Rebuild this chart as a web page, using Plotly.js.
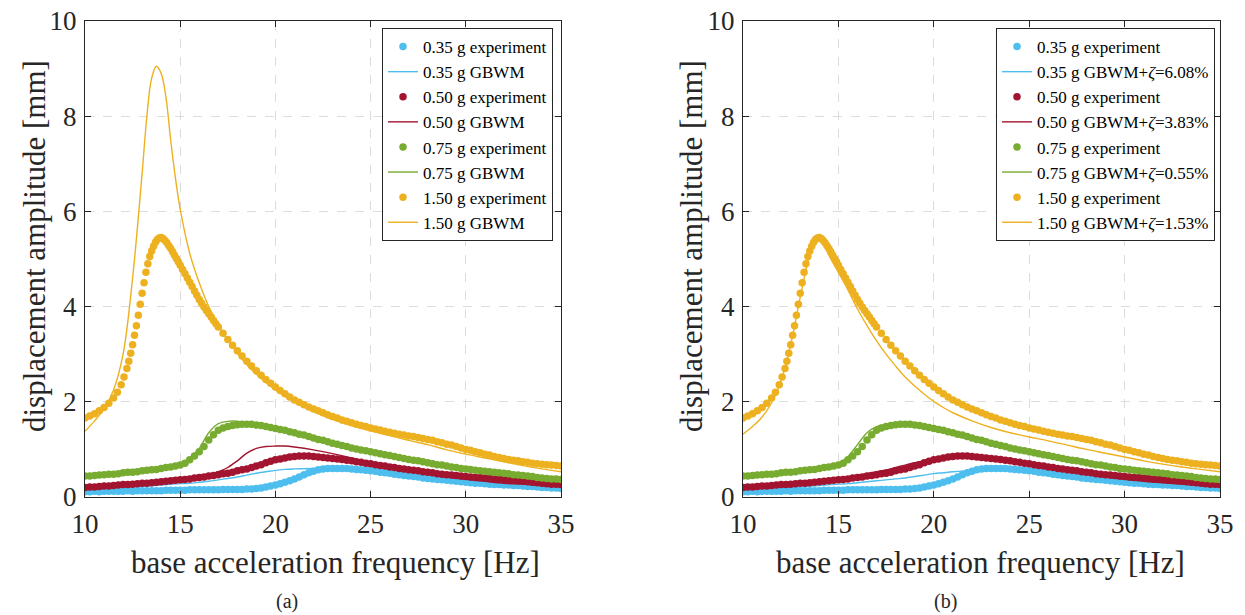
<!DOCTYPE html>
<html>
<head>
<meta charset="utf-8">
<script src="https://cdn.plot.ly/plotly-3.0.1.min.js"></script>
<style>html,body{margin:0;padding:0;background:#fff;}#chart{width:1245px;height:615px;}</style>
</head>
<body>
<div id="chart"></div>
<script>
// ---------- DATA ----------
// experiment frequency grid (Hz)
const expFreq = [
10,10.25,10.5,10.75, 11,11.25,11.5,11.75, 12,12.25,12.5,12.75, 13,13.25,13.5,13.75,
14,14.25,14.5,14.75, 15,15.25,15.5,15.75, 16,16.25,16.5,16.75, 17,17.25,17.5,17.75,
18,18.25,18.5,18.75, 19,19.25,19.5,19.75, 20,20.25,20.5,20.75, 21,21.25,21.5,21.75,
22,22.25,22.5,22.75, 23,23.25,23.5,23.75, 24,24.25,24.5,24.75, 25,25.25,25.5,25.75,
26,26.25,26.5,26.75, 27,27.25,27.5,27.75, 28,28.25,28.5,28.75, 29,29.25,29.5,29.75,
30,30.25,30.5,30.75, 31,31.25,31.5,31.75, 32,32.25,32.5,32.75, 33,33.25,33.5,33.75,
34,34.25,34.5,34.75, 35];

const exp035 = [
0.11,0.11,0.12,0.11, 0.12,0.12,0.12,0.12, 0.12,0.13,0.12,0.13, 0.13,0.13,0.13,0.13,
0.13,0.14,0.14,0.14, 0.14,0.14,0.15,0.15, 0.15,0.15,0.15,0.15, 0.15,0.16,0.16,0.16,
0.16,0.16,0.17,0.17, 0.18,0.19,0.21,0.23, 0.25,0.28,0.31,0.34, 0.38,0.42,0.47,0.51,
0.54,0.57,0.59,0.60, 0.60,0.60,0.60,0.60, 0.59,0.58,0.57,0.56, 0.55,0.54,0.52,0.51,
0.50,0.48,0.47,0.45, 0.44,0.43,0.42,0.40, 0.39,0.38,0.37,0.36, 0.35,0.34,0.33,0.32,
0.31,0.30,0.29,0.29, 0.28,0.27,0.26,0.26, 0.25,0.25,0.24,0.24, 0.23,0.22,0.22,0.21,
0.20,0.20,0.19,0.19, 0.18];

const exp050 = [
0.20,0.21,0.21,0.22, 0.23,0.23,0.24,0.25, 0.26,0.26,0.27,0.28, 0.29,0.29,0.30,0.31,
0.32,0.33,0.34,0.35, 0.36,0.37,0.38,0.40, 0.41,0.42,0.44,0.45, 0.47,0.49,0.50,0.52,
0.55,0.57,0.59,0.62, 0.65,0.68,0.72,0.75, 0.78,0.80,0.82,0.84, 0.85,0.86,0.86,0.86,
0.85,0.84,0.83,0.82, 0.81,0.80,0.79,0.77, 0.76,0.74,0.73,0.71, 0.70,0.68,0.66,0.65,
0.63,0.62,0.60,0.59, 0.57,0.56,0.55,0.53, 0.52,0.51,0.49,0.48, 0.47,0.46,0.45,0.44,
0.43,0.42,0.41,0.41, 0.40,0.39,0.38,0.38, 0.37,0.36,0.35,0.34, 0.33,0.32,0.31,0.30,
0.29,0.28,0.27,0.27, 0.26];

const exp075 = [
0.44,0.44,0.45,0.46, 0.47,0.48,0.48,0.49, 0.51,0.52,0.52,0.53, 0.55,0.56,0.57,0.58,
0.60,0.62,0.63,0.65, 0.67,0.71,0.78,0.86, 0.95,1.06,1.20,1.31, 1.40,1.45,1.48,1.50,
1.52,1.53,1.53,1.53, 1.51,1.50,1.48,1.46, 1.44,1.42,1.40,1.37, 1.35,1.32,1.30,1.27,
1.24,1.21,1.19,1.16, 1.13,1.11,1.08,1.06, 1.03,1.01,0.99,0.97, 0.95,0.93,0.91,0.89,
0.87,0.85,0.83,0.81, 0.79,0.77,0.76,0.74, 0.72,0.70,0.68,0.67, 0.65,0.63,0.62,0.60,
0.59,0.58,0.56,0.55, 0.54,0.53,0.52,0.51, 0.50,0.49,0.47,0.46, 0.45,0.44,0.43,0.41,
0.40,0.39,0.38,0.38, 0.37];

const exp150Freq = [
10,10.25,10.5,10.75,11,11.25,11.5,11.7,11.9,12.05,12.2,12.3,12.4,12.5,12.6,12.7,12.8,12.9,
13.0,13.1,13.2,13.3,13.4,13.5,13.6,13.7,13.8,13.9,14.0,14.1,14.2,14.3,14.4,14.5,14.6,14.7,14.8,14.9,
15,15.125,15.25,15.375,15.5,15.625,15.75,15.875,16,16.125,16.25,16.375,16.5,16.625,16.75,16.875,
17,17.25,17.5,17.75, 18,18.25,18.5,18.75,
19,19.25,19.5,19.75, 20,20.25,20.5,20.75, 21,21.25,21.5,21.75, 22,22.25,22.5,22.75,
23,23.25,23.5,23.75, 24,24.25,24.5,24.75, 25,25.25,25.5,25.75, 26,26.25,26.5,26.75,
27,27.25,27.5,27.75, 28,28.25,28.5,28.75, 29,29.25,29.5,29.75, 30,30.25,30.5,30.75,
31,31.25,31.5,31.75, 32,32.25,32.5,32.75, 33,33.25,33.5,33.75, 34,34.25,34.5,34.75, 35];
const exp150 = [
1.66,1.70,1.75,1.81,1.88,1.97,2.08,2.20,2.36,2.52,2.70,2.85,3.02,3.20,3.40,3.60,3.82,4.05,
4.28,4.50,4.72,4.90,5.05,5.17,5.27,5.35,5.41,5.44,5.45,5.43,5.39,5.34,5.28,5.22,5.15,5.08,5.01,4.94,
4.87,4.78,4.69,4.60,4.51,4.42,4.33,4.24,4.15,4.07,3.99,3.92,3.85,3.78,3.71,3.64,
3.57,3.44,3.31,3.19, 3.07,2.96,2.85,2.75,
2.65,2.56,2.47,2.39, 2.31,2.24,2.17,2.10, 2.04,1.99,1.94,1.89, 1.85,1.81,1.77,1.73,
1.69,1.66,1.62,1.59, 1.56,1.53,1.50,1.48, 1.45,1.43,1.41,1.38, 1.36,1.34,1.32,1.30,
1.28,1.27,1.25,1.23, 1.21,1.19,1.16,1.14, 1.11,1.09,1.06,1.03, 1.00,0.98,0.95,0.93,
0.90,0.88,0.85,0.83, 0.81,0.79,0.77,0.76, 0.74,0.73,0.71,0.70, 0.69,0.68,0.67,0.66, 0.65];

// model curves, panel (a): GBWM
const modFreq = [10,11,12,13,14,15,15.5,16,16.5,17,17.5,18,18.5,19,19.5,20,20.5,21,22,23,24,25,26,27,28,29,30,31,32,33,34,35];
const gbwm035 = [0.16,0.18,0.20,0.22,0.25,0.28,0.29,0.31,0.33,0.36,0.39,0.42,0.46,0.50,0.53,0.56,0.58,0.59,0.60,0.59,0.56,0.52,0.47,0.42,0.37,0.33,0.29,0.25,0.22,0.20,0.17,0.15];
const gbwm050 = [0.22,0.25,0.28,0.30,0.33,0.37,0.40,0.43,0.47,0.53,0.62,0.76,0.92,1.02,1.06,1.07,1.07,1.05,0.99,0.91,0.82,0.72,0.63,0.55,0.48,0.42,0.37,0.33,0.29,0.27,0.24,0.22];
const gbwm075 = [0.43,0.46,0.50,0.54,0.60,0.70,0.82,1.02,1.35,1.54,1.59,1.59,1.55,1.50,1.47,1.43,1.38,1.33,1.22,1.12,1.02,0.93,0.84,0.76,0.68,0.61,0.55,0.50,0.45,0.40,0.36,0.32];
const gbwm150Freq = [10,10.5,11,11.5,12,12.5,13,13.25,13.5,13.75,14,14.25,14.5,14.75,15,15.5,16,16.5,17,17.5,18,18.5,19,20,21,22,23,24,25,26,27,28,29,30,31,32,33,34,35];
const gbwm150 = [1.38,1.60,1.85,2.25,3.00,4.60,6.80,8.00,8.80,9.05,8.90,8.40,7.50,6.70,6.05,5.12,4.50,4.00,3.62,3.30,3.02,2.78,2.58,2.25,2.00,1.80,1.63,1.50,1.39,1.29,1.19,1.10,0.99,0.90,0.82,0.74,0.66,0.59,0.53];

// model curves, panel (b): GBWM + damping
const dmp035 = [0.15,0.17,0.19,0.21,0.24,0.27,0.28,0.30,0.32,0.34,0.36,0.38,0.40,0.43,0.46,0.49,0.51,0.53,0.56,0.57,0.56,0.53,0.49,0.45,0.40,0.36,0.32,0.28,0.24,0.21,0.18,0.15];
const dmp050 = [0.21,0.23,0.26,0.30,0.34,0.39,0.42,0.45,0.49,0.53,0.57,0.62,0.67,0.72,0.76,0.80,0.82,0.84,0.84,0.81,0.75,0.68,0.61,0.54,0.48,0.42,0.37,0.33,0.30,0.27,0.24,0.22];
const dmp075 = [0.43,0.46,0.50,0.54,0.60,0.70,0.85,1.10,1.35,1.48,1.52,1.52,1.51,1.48,1.44,1.40,1.35,1.30,1.20,1.10,1.00,0.91,0.83,0.75,0.68,0.61,0.55,0.50,0.45,0.40,0.35,0.31];
const dmp150Freq = [10,10.5,11,11.5,12,12.5,13,13.5,13.75,14,14.25,14.5,15,15.5,16,16.5,17,17.5,18,18.5,19,19.5,20,20.5,21,22,23,24,25,26,27,28,29,30,31,32,33,34,35];
const dmp150 = [1.32,1.48,1.68,1.98,2.45,3.20,4.20,5.10,5.35,5.42,5.30,5.08,4.72,4.35,3.95,3.60,3.28,3.00,2.75,2.52,2.33,2.16,2.01,1.88,1.77,1.60,1.46,1.35,1.26,1.18,1.09,1.00,0.92,0.84,0.76,0.69,0.63,0.58,0.53];

const levels = ['0.35 g','0.50 g','0.75 g','1.50 g'];
const zetas = ['6.08%','3.83%','0.55%','1.53%'];
const colors = ['#4DBEEE','#A2142F','#77AC30','#EDB120'];

// ---------- TRACES ----------
const expX = [expFreq, expFreq, expFreq, exp150Freq];
const expY = [exp035, exp050, exp075, exp150];
const modAX = [modFreq, modFreq, modFreq, gbwm150Freq];
const modAY = [gbwm035, gbwm050, gbwm075, gbwm150];
const modBX = [modFreq, modFreq, modFreq, dmp150Freq];
const modBY = [dmp035, dmp050, dmp075, dmp150];

const traces = [];
for (let i = 0; i < 4; i++) {
  traces.push({x: expX[i], y: expY[i], type: 'scatter', mode: 'markers', name: levels[i] + ' experiment',
    marker: {color: colors[i], size: 7.5}, xaxis: 'x', yaxis: 'y', legend: 'legend'});
  traces.push({x: modAX[i], y: modAY[i], type: 'scatter', mode: 'lines', name: levels[i] + ' GBWM',
    line: {color: colors[i], width: 1.4, shape: 'spline'}, xaxis: 'x', yaxis: 'y', legend: 'legend'});
}
for (let i = 0; i < 4; i++) {
  traces.push({x: expX[i], y: expY[i], type: 'scatter', mode: 'markers', name: levels[i] + ' experiment',
    marker: {color: colors[i], size: 7.5}, xaxis: 'x2', yaxis: 'y2', legend: 'legend2'});
  traces.push({x: modBX[i], y: modBY[i], type: 'scatter', mode: 'lines', name: levels[i] + ' GBWM+<i>ζ</i>=' + zetas[i],
    line: {color: colors[i], width: 1.4, shape: 'spline'}, xaxis: 'x2', yaxis: 'y2', legend: 'legend2'});
}

// ---------- LAYOUT ----------
const W = 1245, H = 615;
const fx = p => p / W, fy = p => 1 - p / H;
const serif = '"Liberation Serif", serif';
const axCol = '#262626';
function xax(dom) {
  return {domain: dom, range: [10, 35], dtick: 5, tick0: 10, ticks: 'inside', ticklen: 6, tickcolor: axCol,
    showline: true, linecolor: axCol, linewidth: 1, mirror: 'ticks', showgrid: true, gridcolor: '#dcdcdc',
    griddash: 'dash', gridwidth: 1, zeroline: false, automargin: false, ticklabelstandoff: 3,
    tickfont: {family: serif, size: 27, color: axCol}};
}
function yax(dom, anchor) {
  return {domain: dom, range: [0, 10], dtick: 2, tick0: 0, ticks: 'inside', ticklen: 6, tickcolor: axCol,
    showline: true, linecolor: axCol, linewidth: 1, mirror: 'ticks', showgrid: true, gridcolor: '#dcdcdc',
    griddash: 'dash', gridwidth: 1, zeroline: false, automargin: false, anchor: anchor, ticklabelstandoff: 2,
    tickfont: {family: serif, size: 27, color: axCol}};
}
const yDom = [fy(497), fy(21)];
const legendBase = {bgcolor: '#ffffff', bordercolor: axCol, borderwidth: 1, xanchor: 'right', yanchor: 'top',
  font: {family: serif, size: 17, color: '#000'}, tracegroupgap: 0, itemwidth: 30};

const ann = (text, x, y, size, rot) => ({text: text, xref: 'paper', yref: 'paper', x: fx(x), y: fy(y),
  xanchor: 'center', yanchor: 'middle', showarrow: false, textangle: rot || 0,
  font: {family: serif, size: size, color: axCol}});

const layout = {
  width: W, height: H, margin: {l: 0, r: 0, t: 0, b: 0}, paper_bgcolor: '#fff', plot_bgcolor: '#fff',
  font: {family: serif, color: axCol},
  showlegend: true,
  xaxis: Object.assign(xax([fx(85), fx(561)]), {anchor: 'y'}),
  yaxis: yax(yDom, 'x'),
  xaxis2: Object.assign(xax([fx(743), fx(1220)]), {anchor: 'y2'}),
  yaxis2: yax(yDom, 'x2'),
  legend: Object.assign({}, legendBase, {x: fx(553), y: fy(28)}),
  legend2: Object.assign({}, legendBase, {x: fx(1215), y: fy(28)}),
  annotations: [
    ann('base acceleration frequency [Hz]', 335, 562, 31),
    ann('base acceleration frequency [Hz]', 980, 562, 31),
    ann('displacement amplitude [mm]', 34, 246, 31, -90),
    ann('displacement amplitude [mm]', 691, 246, 31, -90),
    ann('(a)', 287, 601, 20),
    ann('(b)', 945, 601, 20)
  ]
};

Plotly.newPlot('chart', traces, layout, {displayModeBar: false, staticPlot: true});
</script>
</body>
</html>
